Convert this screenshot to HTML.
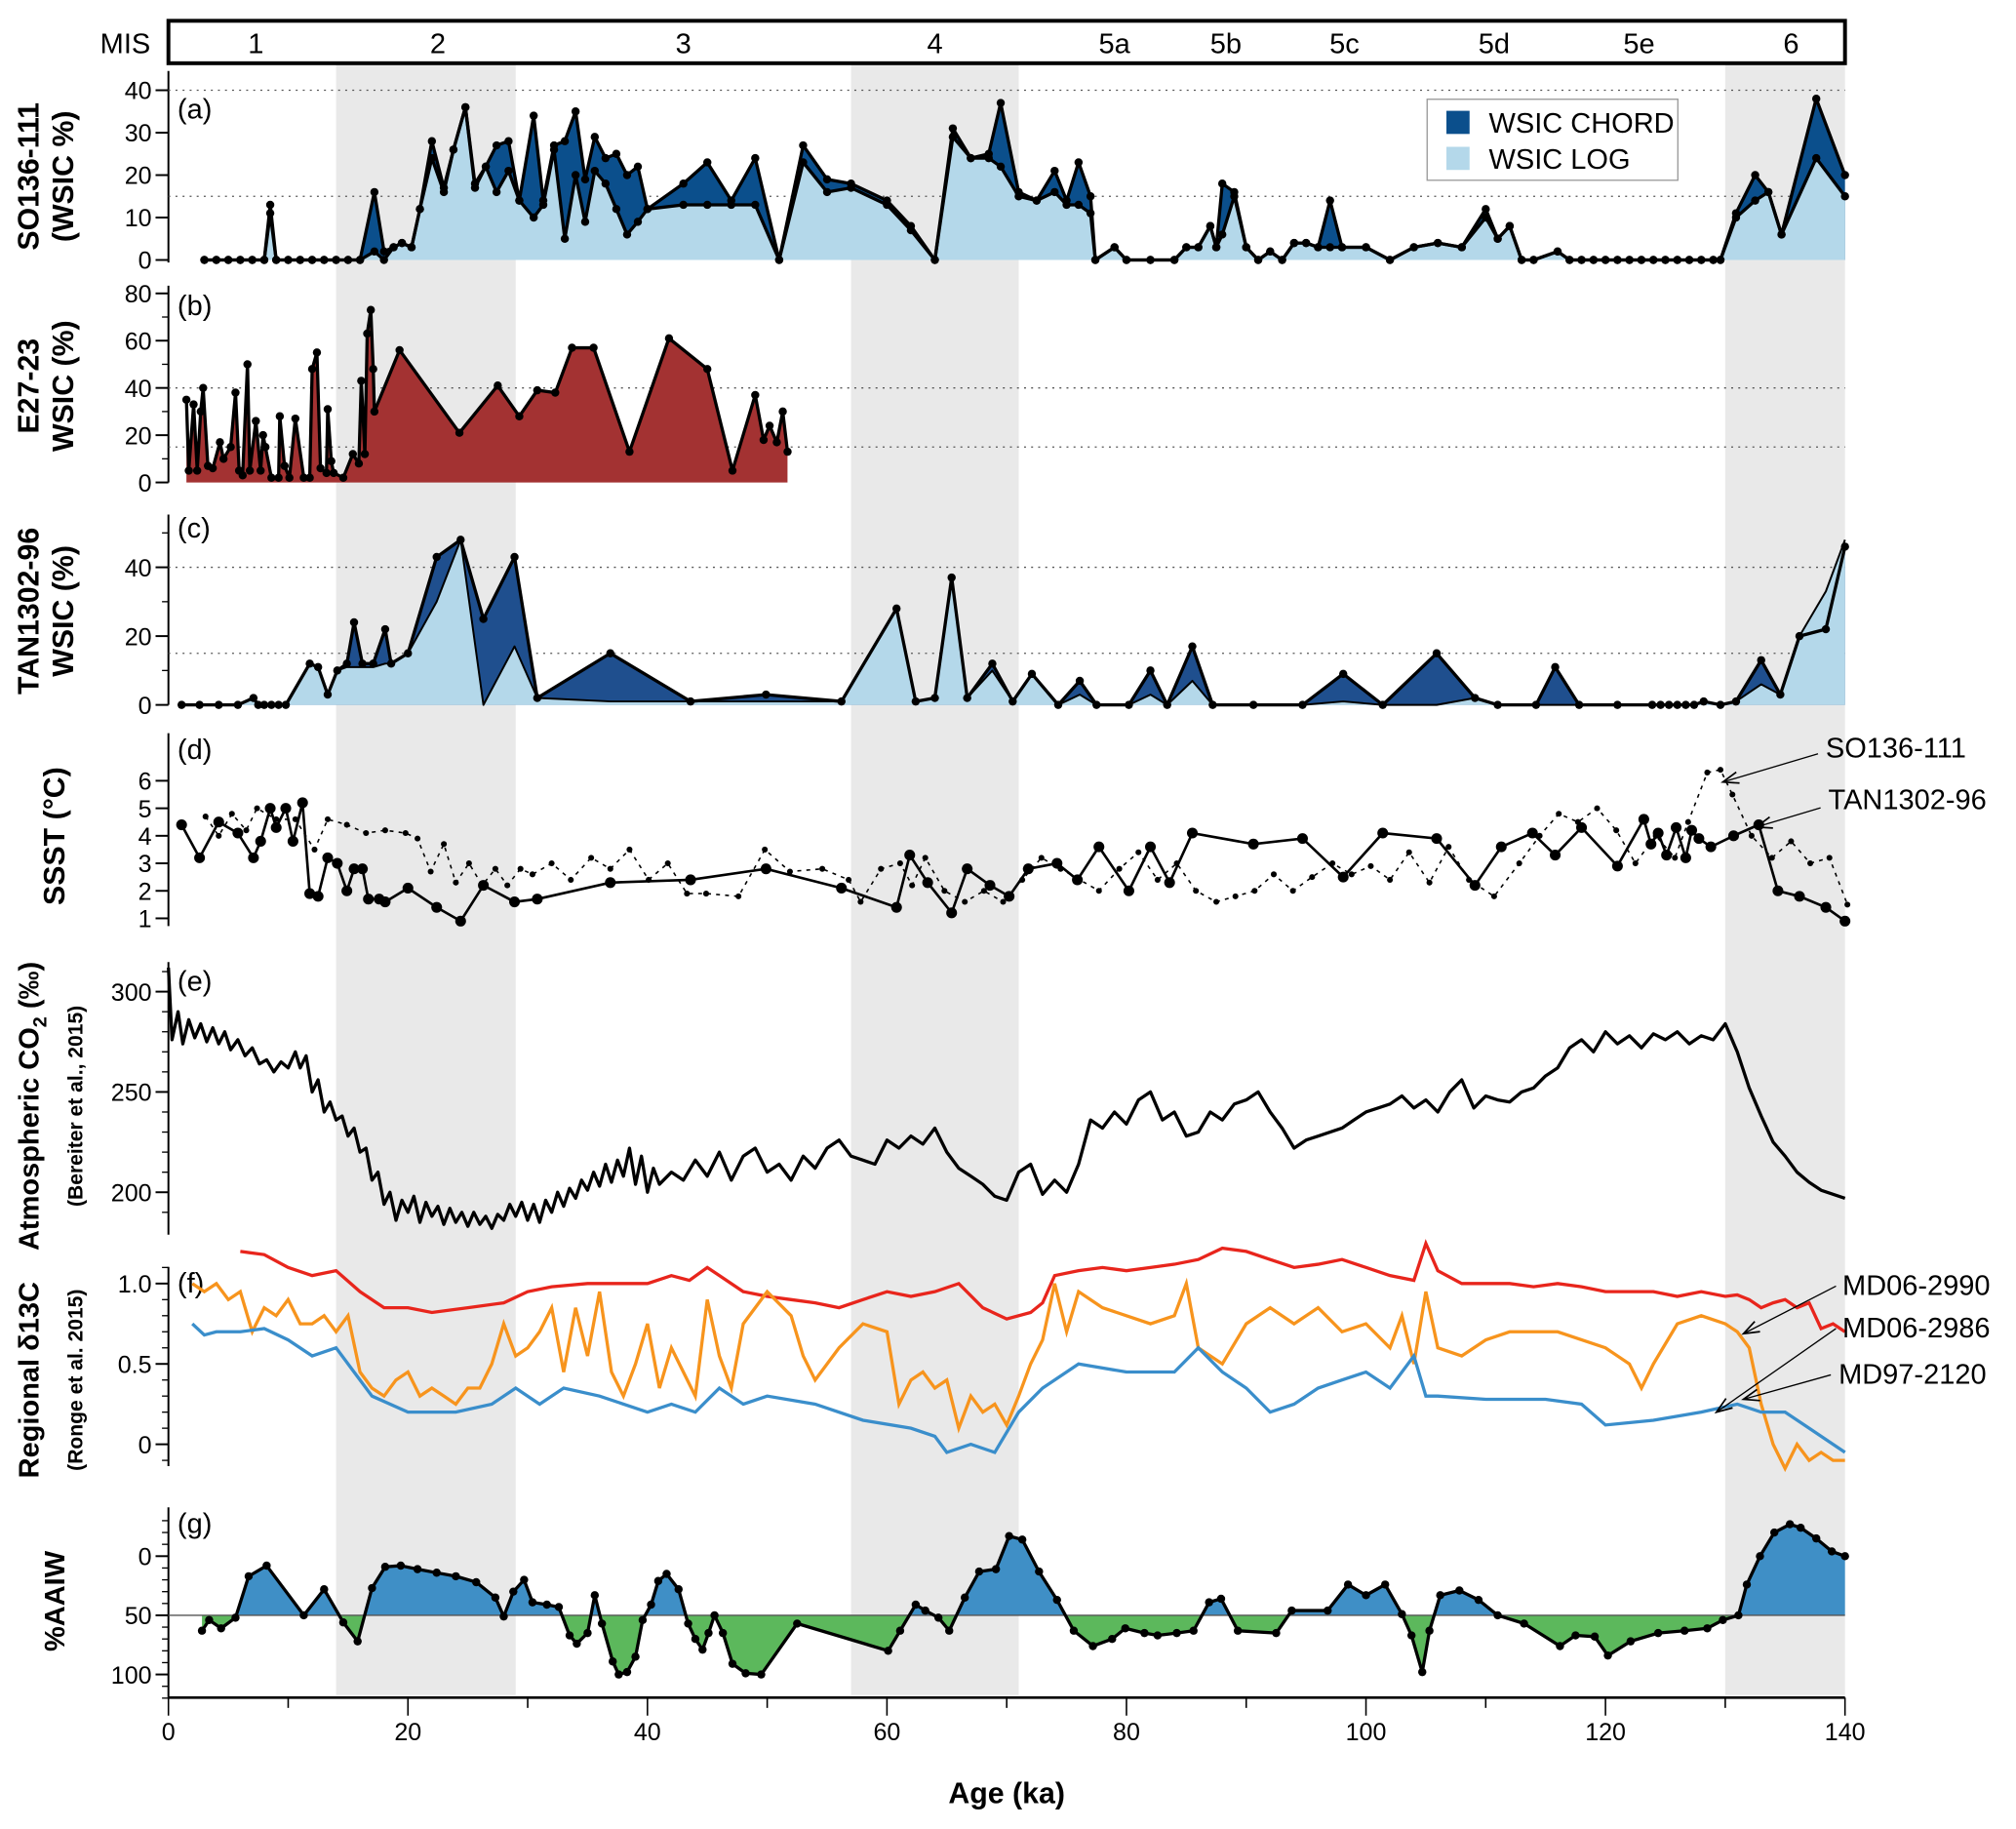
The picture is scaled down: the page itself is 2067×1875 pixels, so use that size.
<!DOCTYPE html>
<html><head><meta charset="utf-8"><style>
html,body{margin:0;padding:0;background:#fff}
svg{display:block}
text{font-family:"Liberation Sans",sans-serif}
</style></head><body>
<svg id="chart" width="2067" height="1875" viewBox="0 0 1568 1422" xmlns="http://www.w3.org/2000/svg"></svg>
<script>
// ---------- DATA ----------
const misLabels=["1","2","3","4","5a","5b","5c","5d","5e","6"];
const misPos=[7.3,22.5,43,64,79,88.3,98.2,110.7,122.8,135.5];
const glacialBands=[[14,29],[57,71],[130,140]];

const aAges=[3,4,5,6,7,8,8.5,9,10,11,12,13,14,15,16,17.2,18,18.8,19.5,20.3,21,22,23,23.8,24.8,25.6,26.5,27.4,28.4,29.3,30.5,31.3,32.2,33.1,34,34.8,35.6,36.5,37.4,38.3,39.2,40,43,45,47,49,51,53,55,57,60,62,64,65.5,67,68.5,69.5,71,72.5,74,75,76,77,77.4,79,80,82,84,85,86,87,87.5,88,89,90,91,92,93,94,95,96,97,98,100,102,104,106,108,110,111,112,113,114,116,117,118,119,120,121,122,123,124,125,126,127,128,129,129.6,130.9,132.5,133.6,134.7,137.6,140];
const aChord=[0,0,0,0,0,0,13,0,0,0,0,0,0,0,0,16,2,3,4,3,12,28,17,26,36,18,22,27,28,14,34,14,27,28,35,19,29,24,25,20,22,12,18,23,14,24,0,27,19,18,14,8,0,31,24,25,37,16,14,21,14,23,15,0,3,0,0,0,3,3,8,3,18,16,3,0,2,0,4,4,3,14,3,3,0,3,4,3,12,5,8,0,0,2,0,0,0,0,0,0,0,0,0,0,0,0,0,0,11,20,16,6,38,20];
const aLog=[0,0,0,0,0,0,11,0,0,0,0,0,0,0,0,2,0,3,4,3,12,24,16,26,36,17,22,16,21,14,10,13,26,5,20,9,21,18,12,6,9,12,13,13,13,13,0,23,16,17,13,7,0,29,24,24,22,15,14,16,13,13,11,0,3,0,0,0,3,3,8,3,6,15,3,0,2,0,4,4,3,3,3,3,0,3,4,3,10,5,8,0,0,2,0,0,0,0,0,0,0,0,0,0,0,0,0,0,10,14,16,6,24,15];

const bAges=[1.5,1.7,2.1,2.4,2.7,2.9,3.3,3.7,4.3,4.6,5.2,5.6,5.9,6.2,6.6,6.8,7.3,7.7,7.9,8.1,8.6,9.2,9.3,9.7,10.1,10.6,11.3,11.8,12,12.4,12.7,13.2,13.3,13.6,13.8,14.6,15.4,15.9,16.1,16.4,16.6,16.9,17.1,17.2,19.3,24.3,27.5,29.3,30.8,32.3,33.7,35.5,38.5,41.8,45,47.1,49,49.7,50.2,50.8,51.3,51.7];
const bVals=[35,5,33,5,30,40,7,6,17,10,15,38,5,3,50,5,26,5,20,15,2,2,28,7,2,27,2,2,48,55,6,4,31,9,4,2,12,8,43,12,63,73,48,30,56,21,41,28,39,38,57,57,13,61,48,5,37,18,24,17,30,13];

const cAges=[1.1,2.6,4.2,5.8,7.1,7.5,8,8.6,9.2,9.8,11.8,12.5,13.3,14.1,14.9,15.5,16.2,17.1,18.1,18.6,20,22.4,24.4,26.3,28.9,30.8,36.9,43.6,49.9,56.2,60.8,62.4,64,65.4,66.7,68.8,70.5,72.1,74.3,76.1,77.5,80.2,82,83.4,85.5,87.2,90.6,94.7,98.1,101.4,105.9,109.1,111,114.2,115.8,117.8,121,123.9,124.6,125.3,126,126.7,127.4,128.2,129.6,130.9,133,134.6,136.2,138.4,140];
const cDark=[0,0,0,0,2,0,0,0,0,0,12,11,3,10,12,24,12,12,22,12,15,43,48,25,43,2,15,1,3,1,28,1,2,37,2,12,1,9,0,7,0,0,10,0,17,0,0,0,9,0,15,2,0,0,11,0,0,0,0,0,0,0,0,1,0,1,13,3,20,22,46];
const cLight=[0,0,0,0,2,0,0,0,0,0,12,11,3,10,11,11,11,11,12,12,15,30,48,0,17,2,1,1,1,1,28,1,2,37,2,10,1,9,0,3,0,0,3,0,7,0,0,0,1,0,0,2,0,0,0,0,0,0,0,0,0,0,0,1,0,1,6,3,20,33,48];

const dTanAges=[1.1,2.6,4.2,5.8,7.1,7.7,8.5,9,9.8,10.4,11.2,11.8,12.5,13.3,14.1,14.9,15.5,16.2,16.7,17.6,18.1,20,22.4,24.4,26.3,28.9,30.8,36.9,43.6,49.9,56.2,60.8,61.9,63.4,65.4,66.7,68.6,70.2,71.8,74.2,75.9,77.7,80.2,82,83.6,85.5,90.6,94.7,98.1,101.4,105.9,109.1,111.3,113.9,115.8,118,121,123.2,123.8,124.4,125.1,125.9,126.7,127.2,127.8,128.8,130.7,132.8,134.4,136.2,138.4,140];
const dTanVals=[4.4,3.2,4.5,4.1,3.2,3.8,5,4.3,5,3.8,5.2,1.9,1.8,3.2,3,2,2.8,2.8,1.7,1.7,1.6,2.1,1.4,0.9,2.2,1.6,1.7,2.3,2.4,2.8,2.1,1.4,3.3,2.3,1.2,2.8,2.2,1.8,2.8,3,2.4,3.6,2,3.6,2.3,4.1,3.7,3.9,2.5,4.1,3.9,2.2,3.6,4.1,3.3,4.3,2.9,4.6,3.7,4.1,3.3,4.3,3.2,4.2,3.9,3.6,4,4.4,2,1.8,1.4,0.9];
const dSoAges=[3.1,4.2,5.3,6.5,7.4,9,10.6,12.2,13.3,14.9,16.5,18.1,19.8,20.8,21.9,23,24,25.1,26.2,27.3,28.3,29.4,30.4,32,33.6,35.3,36.9,38.5,40.1,41.7,43.3,44.9,47.6,49.8,51.9,54.6,56.8,57.8,59.5,61.1,62.1,63.2,64.8,66.5,68.1,69.7,71.3,72.9,74.5,76.1,77.7,79.4,81,82.6,84.2,85.8,87.5,89.1,90.7,92.3,93.9,95.5,97.2,98.8,100.4,102,103.6,105.3,106.9,108.6,110.7,112.8,114.5,116.1,117.7,119.3,120.9,122.5,124.2,125.8,126.9,128.5,129.6,130.6,132.2,133.9,135.5,137.1,138.7,140.2];
const dSoVals=[4.7,4,4.8,4.2,5,4.6,4.6,3.5,4.6,4.4,4.1,4.2,4.1,3.9,2.7,3.7,2.3,3,2.2,2.8,2.2,2.8,2.6,3,2.4,3.2,2.8,3.5,2.4,3,1.9,1.9,1.8,3.5,2.7,2.8,2.4,1.6,2.8,3,2.2,3.2,2,1.6,2,1.6,2.4,3.2,2.8,2.4,2,2.8,3.4,2.4,3,2,1.6,1.8,2,2.6,2,2.5,3,2.6,2.9,2.4,3.4,2.3,3.6,2.4,1.8,3,4,4.8,4.5,5,4.2,3,4,3.2,4.5,6.3,6.4,5.5,4,3.2,3.8,3,3.2,1.5];

const eAges=[0,0.3,0.8,1.2,1.7,2.2,2.7,3.2,3.7,4.2,4.7,5.2,5.8,6.4,7,7.6,8.2,8.8,9.4,10,10.6,11,11.5,12,12.5,13,13.5,14,14.5,15,15.5,16,16.5,17,17.5,18,18.5,19,19.5,20,20.5,21,21.5,22,22.5,23,23.5,24,24.5,25,25.5,26,26.5,27,27.5,28,28.5,29,29.5,30,30.5,31,31.5,32,32.5,33,33.5,34,34.5,35,35.5,36,36.5,37,37.5,38,38.5,39,39.5,40,40.5,41,42,43,44,45,46,47,48,49,50,51,52,53,54,55,56,57,58,59,60,61,62,63,64,65,66,67,68,69,70,71,72,73,74,75,76,77,78,79,80,81,82,83,84,85,86,87,88,89,90,91,92,93,94,95,96,97,98,99,100,101,102,103,104,105,106,107,108,109,110,111,112,113,114,115,116,117,118,119,120,121,122,123,124,125,126,127,128,129,130,131,132,133,134,135,136,137,138,139,140];
const eVals=[312,276,290,274,286,277,284,275,282,274,280,271,276,268,272,264,266,260,265,262,270,262,268,250,256,240,245,236,238,228,232,220,222,206,210,194,200,186,196,190,198,185,195,188,193,184,192,185,190,183,190,184,188,182,189,186,194,188,195,186,194,185,196,190,200,193,202,197,206,201,210,203,214,205,216,208,222,204,218,200,212,204,210,206,216,208,220,206,218,222,210,214,206,218,212,222,226,218,216,214,226,222,228,224,232,220,212,208,204,198,196,210,214,199,206,200,214,236,232,240,234,246,250,236,240,228,230,240,236,244,246,250,240,232,222,226,228,230,232,236,240,242,244,248,242,246,240,250,256,242,248,246,245,250,252,258,262,272,276,270,280,274,278,272,279,276,280,274,278,276,284,270,252,238,225,218,210,205,201,199,197,194];

const fRedAges=[6,8,10,12,14,16,18,20,22,25,28,30,32,35,38,40,42,43.5,45,46,48,50,52,54,56,58,60,62,64,66,68,70,72,73,74,76,78,80,82,84,86,88,90,92,94,96,98,100,102,104,105,106,108,110,112,114,116,118,120,122,124,126,128,130,131,132,133,134,135,136,137,138,139,140];
const fRedVals=[1.2,1.18,1.1,1.05,1.08,0.95,0.85,0.85,0.82,0.85,0.88,0.95,0.98,1.0,1.0,1.0,1.05,1.02,1.1,1.05,0.95,0.92,0.9,0.88,0.85,0.9,0.95,0.92,0.95,1.0,0.85,0.78,0.82,0.88,1.05,1.08,1.1,1.08,1.1,1.12,1.15,1.22,1.2,1.15,1.1,1.12,1.15,1.1,1.05,1.02,1.25,1.08,1.0,1.0,1.0,0.98,1.0,0.98,0.95,0.95,0.95,0.92,0.95,0.92,0.93,0.9,0.85,0.88,0.9,0.85,0.88,0.72,0.75,0.7];
const fOrAges=[2,3,4,5,6,7,8,9,10,11,12,13,14,15,16,17,18,19,20,21,22,23,24,25,26,27,28,29,30,31,32,33,34,35,36,37,38,39,40,41,42,43,44,45,46,47,48,50,52,53,54,56,58,60,61,62,63,64,65,66,67,68,69,70,71,72,73,74,75,76,78,80,82,84,85,86,88,90,92,94,96,98,100,102,103,104,105,106,108,110,112,116,120,122,123,124,126,128,130,131,132,133,134,135,136,137,138,139,140];
const fOrVals=[1.0,0.95,1.0,0.9,0.95,0.7,0.85,0.8,0.9,0.75,0.75,0.8,0.7,0.8,0.45,0.35,0.3,0.4,0.45,0.3,0.35,0.3,0.25,0.35,0.35,0.5,0.75,0.55,0.6,0.7,0.85,0.45,0.85,0.55,0.95,0.45,0.3,0.5,0.75,0.35,0.6,0.45,0.3,0.9,0.55,0.35,0.75,0.95,0.8,0.55,0.4,0.6,0.75,0.7,0.25,0.4,0.45,0.35,0.4,0.1,0.3,0.2,0.25,0.12,0.3,0.5,0.65,1.0,0.7,0.95,0.85,0.8,0.75,0.8,1.0,0.6,0.5,0.75,0.85,0.75,0.85,0.7,0.75,0.6,0.8,0.5,0.95,0.6,0.55,0.65,0.7,0.7,0.6,0.5,0.35,0.5,0.75,0.8,0.75,0.7,0.6,0.25,0,-0.15,0,-0.1,-0.05,-0.1,-0.1];
const fBlAges=[2,3,4,6,8,10,12,14,15,17,20,24,27,29,31,33,36,40,42,44,46,48,50,54,58,62,64,65,67,69,71,73,76,80,84,86,88,90,92,94,96,98,100,102,104,105,106,110,115,118,120,124,128,131,133,135,137,139,140];
const fBlVals=[0.75,0.68,0.7,0.7,0.72,0.65,0.55,0.6,0.5,0.3,0.2,0.2,0.25,0.35,0.25,0.35,0.3,0.2,0.25,0.2,0.35,0.25,0.3,0.25,0.15,0.1,0.05,-0.05,0,-0.05,0.2,0.35,0.5,0.45,0.45,0.6,0.45,0.35,0.2,0.25,0.35,0.4,0.45,0.35,0.55,0.3,0.3,0.28,0.28,0.25,0.12,0.15,0.2,0.25,0.2,0.2,0.1,0,-0.05];

const gAges=[2.8,3.4,4.4,5.6,6.7,8.2,11.3,13,14.6,15.8,17,18.1,19.4,20.8,22.4,24,25.7,27.3,28,28.8,29.7,30.4,31.6,32.6,33.5,34.1,35,35.6,36.2,37.1,37.6,38.3,39,39.6,40.3,40.9,41.6,42.6,43.4,44,44.6,45.1,45.6,46.3,47.1,48.2,49.5,52.5,60.1,61.1,62.4,63.2,64.3,65.2,66.5,67.7,69.1,70.2,71.3,72.7,74.2,75.6,77.2,78.8,79.9,81.5,82.6,84.2,85.6,86.9,87.9,89.3,92.5,93.8,96.8,98.5,100,101.6,103,103.8,104.7,105.3,106.2,107.8,109.4,111,113.2,116.2,117.5,119.1,120.2,122.1,124.4,126.6,128.5,129.8,131.1,131.8,132.9,134.1,135.4,136.3,137.6,138.9,140];
const gVals=[63,54,61,52,17,8,50,28,56,72,27,9,8,11,14,17,22,35,51,30,20,39,41,43,67,74,65,33,57,89,100,98,85,54,41,21,15,28,57,70,79,65,50,65,91,99,100,57,80,63,41,46,52,63,35,13,11,-17,-14,13,37,63,76,70,61,65,67,65,63,39,36,63,65,46,46,24,33,24,49,67,98,63,33,29,37,50,57,76,67,68,84,72,65,63,61,54,50,24,0,-20,-27,-24,-15,-4,0];

// ---------- SCALES ----------
const X0=131,X1=1435;
const x=a=>X0+a*(X1-X0)/140;
const yA=v=>202-v*3.3;
const yB=v=>375-v*1.8375;
const yC=v=>548-v*2.675;
const yD=v=>714-(v-1)*21.4;
const yE=v=>927-(v-200)*1.56;
const yF=v=>1123-v*125;
const yG=v=>1210+v*0.92;

const svg=document.getElementById('chart');
const NS='http://www.w3.org/2000/svg';
function el(tag,attrs,parent){const e=document.createElementNS(NS,tag);for(const k in attrs)e.setAttribute(k,attrs[k]);(parent||svg).appendChild(e);return e;}
function txt(s,attrs,parent){const t=el('text',attrs,parent);t.textContent=s;return t;}
function linePts(ages,vals,ys){return ages.map((a,i)=>x(a).toFixed(1)+','+ys(vals[i]).toFixed(1)).join(' ');}
function areaPts(ages,vals,ys,base){return x(ages[0]).toFixed(1)+','+ys(base)+' '+linePts(ages,vals,ys)+' '+x(ages[ages.length-1]).toFixed(1)+','+ys(base);}

// bands
glacialBands.forEach(b=>{
  const r=el('rect',{x:x(b[0]),y:49,width:x(b[1])-x(b[0]),height:1269,fill:'#e9e9e9'});
  
  
});

// MIS bar
const mis=el('rect',{x:X0,y:16,width:X1-X0,height:33,fill:'none',stroke:'#000','stroke-width':3});

txt('MIS',{x:117,y:41,'font-size':22,'text-anchor':'end'});
misLabels.forEach((l,i)=>{
  const t=txt(l,{x:x(misPos[i]),y:41,'font-size':22,'text-anchor':'middle'});
  
  
});

// axes helper
function yAxis(name,top,bot,ticks,ys,minor,labelFmt){
  const g=el('g',{});
  
  el('line',{x1:X0,y1:top,x2:X0,y2:bot,stroke:'#000','stroke-width':1.5},g);
  (minor||[]).forEach(v=>{const yy=ys(v);if(yy>=top-1&&yy<=bot+1)el('line',{x1:X0-5,y1:yy,x2:X0,y2:yy,stroke:'#000','stroke-width':1},g);});
  ticks.forEach(v=>{const yy=ys(v);el('line',{x1:X0-10,y1:yy,x2:X0,y2:yy,stroke:'#000','stroke-width':1.5},g);
    txt(labelFmt?labelFmt(v):String(v),{x:X0-13,y:yy+7,'font-size':19,'text-anchor':'end'},g);});
}
function dotted(v,ys,name){const l=el('line',{x1:X0,y1:ys(v),x2:X1,y2:ys(v),stroke:'#555','stroke-width':1,'stroke-dasharray':'1.5,4'});}
function ylab(lines,cx,cy,size,bold){
  lines.forEach((s,i)=>{const t=txt(s,{x:0,y:0,'font-size':size,'font-weight':bold?'bold':'normal','text-anchor':'middle',transform:`translate(${cx[i]},${cy}) rotate(-90)`});});
}
function panelLetter(s,yy){const t=txt(s,{x:138,y:yy,'font-size':22});}
function dots(ages,vals,ys,r,name){ages.forEach((a,i)=>{const c=el('circle',{cx:x(a),cy:ys(vals[i]),r:r,fill:'#000'});});}

// ---- Panel a ----
yAxis('y-axis-a',55,204,[0,10,20,30,40],yA,[]);
dotted(40,yA,'gridline-a-40');dotted(15,yA,'gridline-a-15');
panelLetter('(a)',92);
ylab(['SO136-111','(WSIC %)'],[30,57],137,23,true);
const aCh=el('polygon',{points:areaPts(aAges,aChord,yA,0),fill:'#0b4f8c'});
const aLg=el('polygon',{points:areaPts(aAges,aLog,yA,0),fill:'#b4d8ea'});
el('polyline',{points:linePts(aAges,aChord,yA),fill:'none',stroke:'#000','stroke-width':2.5,'stroke-linejoin':'round'});
el('polyline',{points:linePts(aAges,aLog,yA),fill:'none',stroke:'#000','stroke-width':2.5,'stroke-linejoin':'round'});
dots(aAges,aChord,yA,3.2,'wsic-chord-point');dots(aAges,aLog,yA,3.2,'wsic-log-point');
// legend
const lg=el('g',{});
el('rect',{x:1110,y:77,width:195,height:63,fill:'#fff',stroke:'#999','stroke-width':1},lg);
el('rect',{x:1125,y:86,width:18,height:18,fill:'#0b4f8c'},lg);
el('rect',{x:1125,y:114,width:18,height:18,fill:'#b4d8ea'},lg);
txt('WSIC CHORD',{x:1158,y:103,'font-size':22},lg);
txt('WSIC LOG',{x:1158,y:131,'font-size':22},lg);

// ---- Panel b ----
yAxis('y-axis-b',222,375,[0,20,40,60,80],yB,[10,30,50,70]);
dotted(40,yB,'gridline-b-40');dotted(15,yB,'gridline-b-15');
panelLetter('(b)',245);
ylab(['E27-23','WSIC (%)'],[30,57],300,23,true);
el('polygon',{points:areaPts(bAges,bVals,yB,0),fill:'#a33232'});
el('polyline',{points:linePts(bAges,bVals,yB),fill:'none',stroke:'#000','stroke-width':2.5,'stroke-linejoin':'round'});
dots(bAges,bVals,yB,3.2,'e27-23-point');

// ---- Panel c ----
yAxis('y-axis-c',400,548,[0,20,40],yC,[10,30,50]);
dotted(40,yC,'gridline-c-40');dotted(15,yC,'gridline-c-15');
panelLetter('(c)',418);
ylab(['TAN1302-96','WSIC (%)'],[30,57],475,23,true);
el('polygon',{points:areaPts(cAges,cDark,yC,0),fill:'#1f4f8e'});
el('polygon',{points:areaPts(cAges,cLight,yC,0),fill:'#b4d8ea'});
el('polyline',{points:linePts(cAges,cDark,yC),fill:'none',stroke:'#000','stroke-width':2.5,'stroke-linejoin':'round'});
el('polyline',{points:linePts(cAges,cLight,yC),fill:'none',stroke:'#000','stroke-width':1.5,'stroke-linejoin':'round'});
dots(cAges,cDark,yC,3.2,'tan-chord-point');

// ---- Panel d ----
yAxis('y-axis-d',570,720,[1,2,3,4,5,6],yD,[]);
panelLetter('(d)',590);
ylab(['SSST (°C)'],[50],650,23,true);
el('polyline',{points:linePts(dSoAges,dSoVals,yD),fill:'none',stroke:'#000','stroke-width':1.2,'stroke-dasharray':'3,4'});
dots(dSoAges,dSoVals,yD,2.3,'sst-so136-point');
el('polyline',{points:linePts(dTanAges,dTanVals,yD),fill:'none',stroke:'#000','stroke-width':2});
dots(dTanAges,dTanVals,yD,4.2,'sst-tan-point');

// ---- Panel e ----
yAxis('y-axis-e',748,960,[200,250,300],yE,[190,210,220,230,240,260,270,280,290,310]);
panelLetter('(e)',770);
const eTitle=txt('',{x:0,y:0,'font-size':22,'font-weight':'bold','text-anchor':'middle',transform:'translate(30,860) rotate(-90)'});

eTitle.innerHTML='Atmospheric CO<tspan font-size="15" dy="6">2</tspan><tspan dy="-6"> (‰)</tspan>';
ylab(['(Bereiter et al., 2015)'],[64],860,16,true);
el('polyline',{points:linePts(eAges,eVals,yE),fill:'none',stroke:'#000','stroke-width':2.5,'stroke-linejoin':'round'});

// ---- Panel f ----
yAxis('y-axis-f',985,1140,[0,0.5,1.0],yF,[-0.1,0.1,0.2,0.3,0.4,0.6,0.7,0.8,0.9,1.1,1.2],v=>v===0?'0':v.toFixed(1));
panelLetter('(f)',1005);
ylab(['Regional δ13C'],[30],1073,22,true);
ylab(['(Ronge et al. 2015)'],[64],1073,16,true);
el('polyline',{points:linePts(fRedAges,fRedVals,yF),fill:'none',stroke:'#e8251c','stroke-width':2.5});
el('polyline',{points:linePts(fOrAges,fOrVals,yF),fill:'none',stroke:'#f7941d','stroke-width':2.5});
el('polyline',{points:linePts(fBlAges,fBlVals,yF),fill:'none',stroke:'#3a8ecb','stroke-width':2.5});

// ---- Panel g ----
yAxis('y-axis-g',1172,1320,[0,50,100],yG,[-30,-20,-10,10,20,30,40,60,70,80,90,110,120]);
panelLetter('(g)',1192);
ylab(['%AAIW'],[50],1245,22,true);
const defs=el('defs',{});
const c1=el('clipPath',{id:'above'},defs);el('rect',{x:0,y:0,width:1568,height:yG(50)},c1);
const c2=el('clipPath',{id:'below'},defs);el('rect',{x:0,y:yG(50),width:1568,height:300},c2);
el('polygon',{points:areaPts(gAges,gVals,yG,50),fill:'#3f8fc6','clip-path':'url(#above)'});
el('polygon',{points:areaPts(gAges,gVals,yG,50),fill:'#5cb85c','clip-path':'url(#below)'});
el('line',{x1:X0,y1:yG(50),x2:X1,y2:yG(50),stroke:'#555','stroke-width':1});
el('polyline',{points:linePts(gAges,gVals,yG),fill:'none',stroke:'#000','stroke-width':2.5,'stroke-linejoin':'round'});
dots(gAges,gVals,yG,3.2,'aaiw-point');

// ---- x axis ----
const xa=el('g',{});
el('line',{x1:X0,y1:1320,x2:X1,y2:1320,stroke:'#000','stroke-width':2},xa);
for(let a=0;a<=140;a+=10){el('line',{x1:x(a),y1:1320,x2:x(a),y2:a%20===0?1334:1328,stroke:'#000','stroke-width':1.2},xa);
  if(a%20===0)txt(String(a),{x:x(a),y:1353,'font-size':19,'text-anchor':'middle'},xa);}
const xt=txt('Age (ka)',{x:783,y:1402,'font-size':23,'font-weight':'bold','text-anchor':'middle'});


// ---- annotations ----
function ann(label,tx,ty,x1,y1,x2,y2){
  const g=el('g',{});
  txt(label,{x:tx,y:ty,'font-size':22},g);
  el('line',{x1:x1,y1:y1,x2:x2,y2:y2,stroke:'#000','stroke-width':1},g);
  const ang=Math.atan2(y1-y2,x1-x2),L=13,w=0.35;
  el('polyline',{points:`${x2+L*Math.cos(ang+w)},${y2+L*Math.sin(ang+w)} ${x2},${y2} ${x2+L*Math.cos(ang-w)},${y2+L*Math.sin(ang-w)}`,fill:'none',stroke:'#000','stroke-width':1.3},g);
}
ann('SO136-111',1420,589,1414,586,1340,608);
ann('TAN1302-96',1422,629,1416,628,1366,643);
ann('MD06-2990',1433,1007,1428,1000,1356,1037);
ann('MD06-2986',1433,1040,1428,1033,1335,1098);
ann('MD97-2120',1430,1076,1424,1069,1356,1088);
</script>
</body></html>
